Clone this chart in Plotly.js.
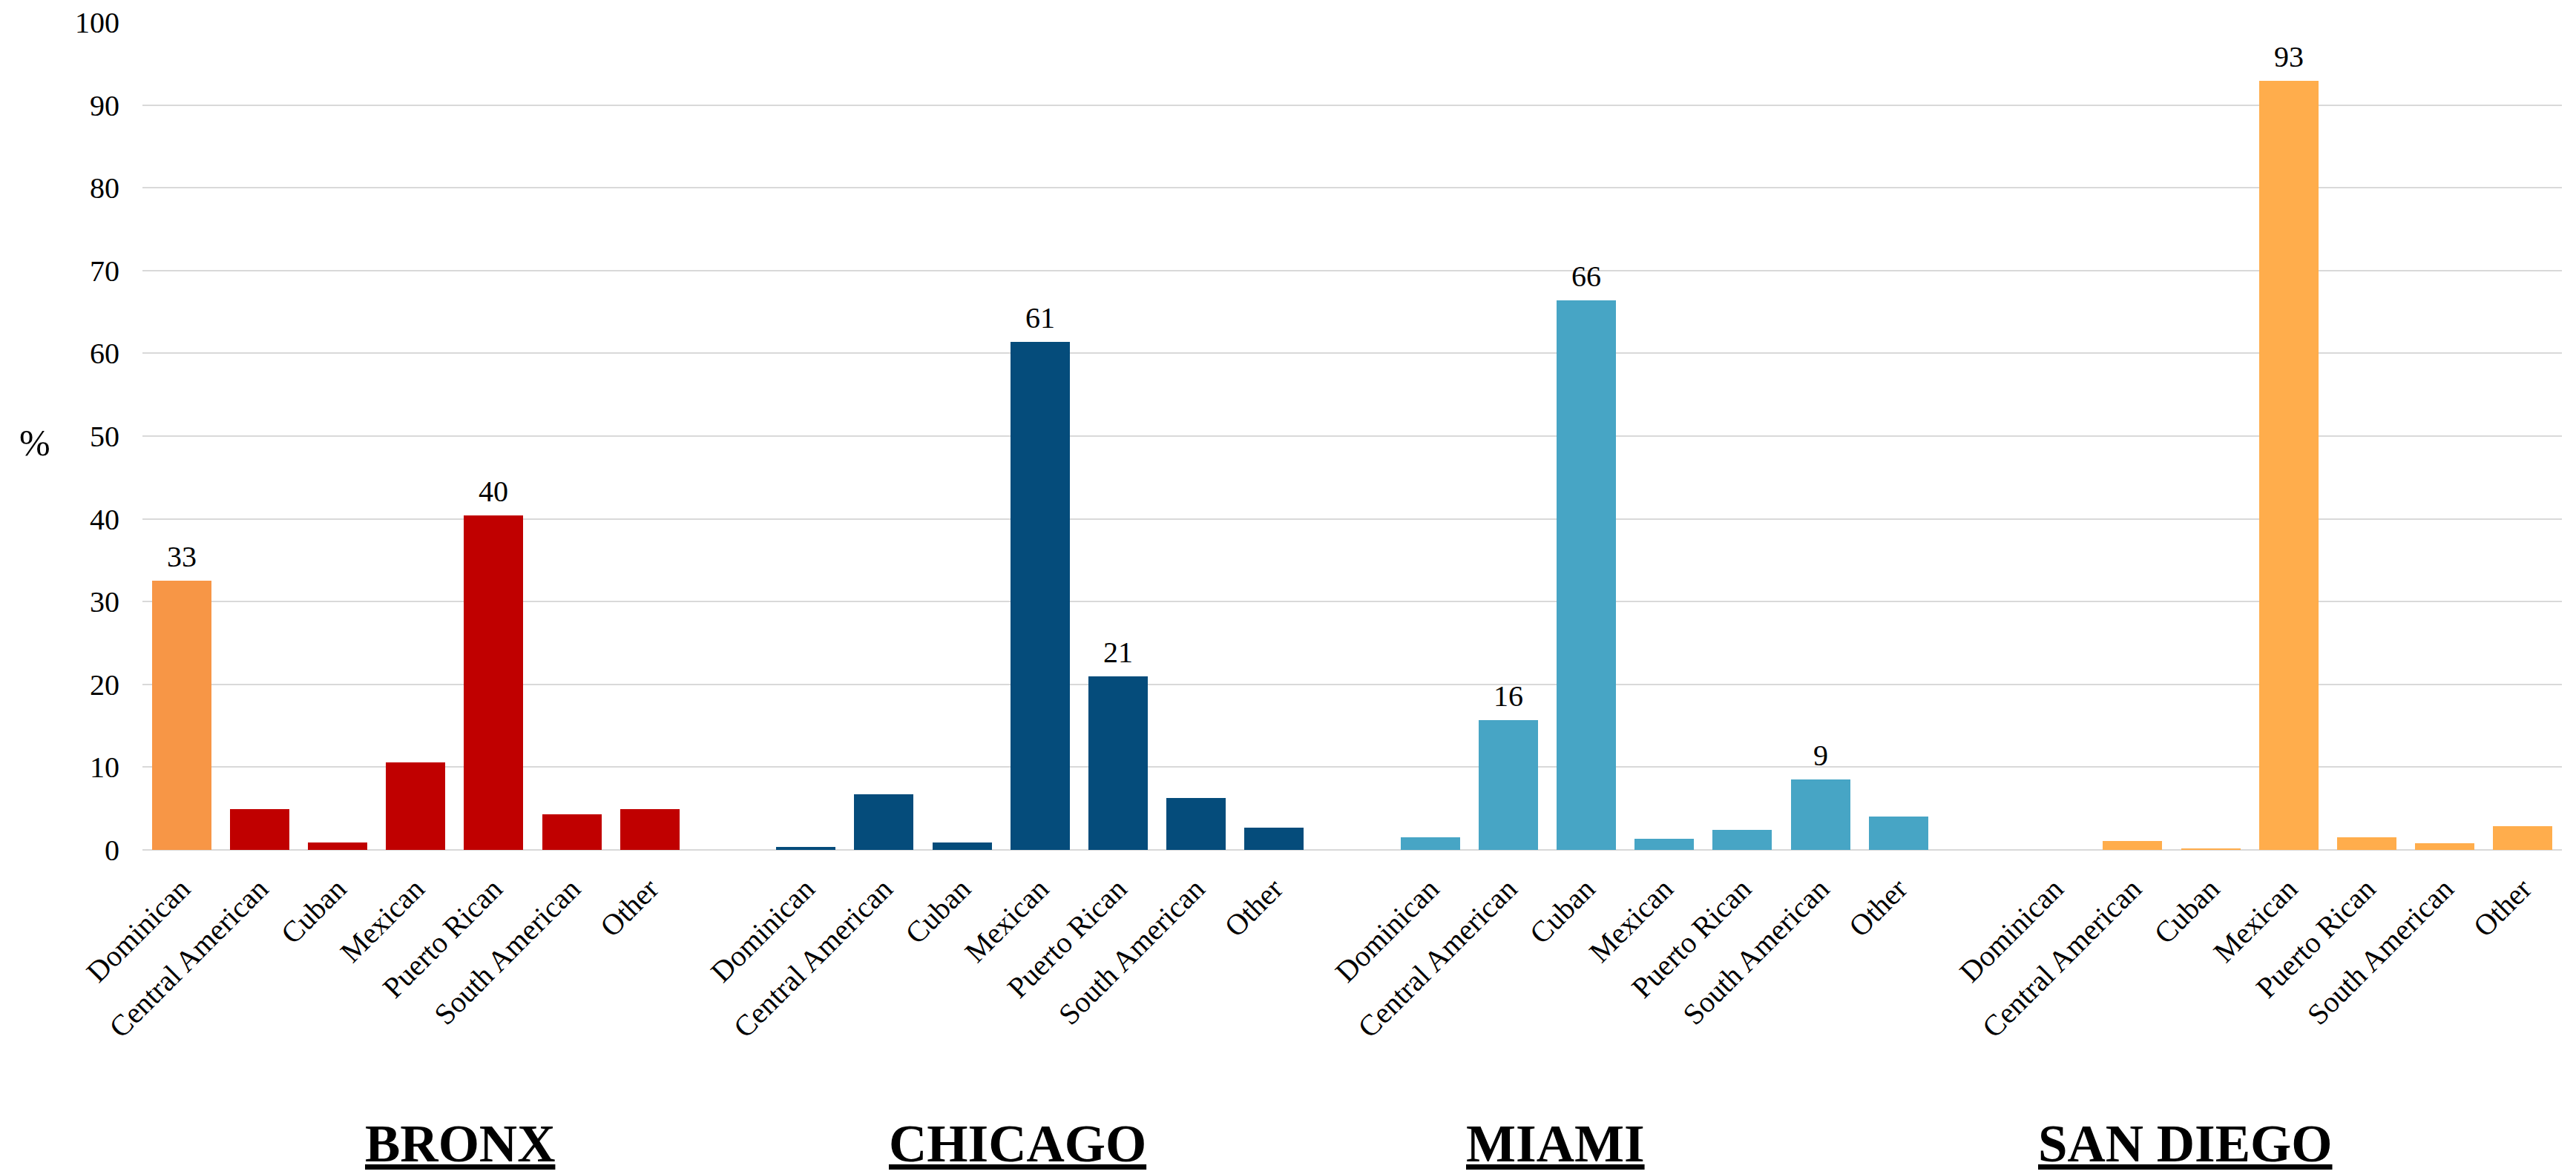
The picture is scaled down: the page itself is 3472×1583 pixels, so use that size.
<!DOCTYPE html>
<html>
<head>
<meta charset="utf-8">
<script src="https://cdn.plot.ly/plotly-3.0.1.min.js"></script>
<style>
  html, body { margin: 0; padding: 0; background: #ffffff; }
  #chart { width: 3472px; height: 1583px; }
</style>
</head>
<body>
<div id="chart"></div>
<script>
// Hispanic/Latino background by city (%)
const cities = ["BRONX", "CHICAGO", "MIAMI", "SAN DIEGO"];
const origins = ["Dominican", "Central American", "Cuban", "Mexican", "Puerto Rican", "South American", "Other"];

const bronx    = [32.5, 4.9, 0.9, 10.6, 40.4, 4.3, 4.9];
const chicago  = [0.4, 6.7, 0.9, 61.4, 21.0, 6.3, 2.7];
const miami    = [1.5, 15.7, 66.4, 1.3, 2.4, 8.5, 4.0];
const sanDiego = [0.0, 1.1, 0.2, 92.9, 1.5, 0.8, 2.9];

// which bars carry a value label (1 = labelled)
const bronxLabels    = [1, 0, 0, 0, 1, 0, 0];
const chicagoLabels  = [0, 0, 0, 1, 1, 0, 0];
const miamiLabels    = [0, 1, 1, 0, 0, 1, 0];
const sanDiegoLabels = [0, 0, 0, 1, 0, 0, 0];

const yTicks = [0, 10, 20, 30, 40, 50, 60, 70, 80, 90, 100];

const seriesValues = [bronx, chicago, miami, sanDiego];
const seriesLabels = [bronxLabels, chicagoLabels, miamiLabels, sanDiegoLabels];
const seriesColors = [
  ["#F79646", "#C00000", "#C00000", "#C00000", "#C00000", "#C00000", "#C00000"],
  "#054C7B",
  "#47A5C5",
  "#FFAD4C"
];

const SERIF = "Liberation Serif, Times New Roman, serif";
const slot = origins.length + 1;   // one empty slot between cities

const traces = [];
const annotations = [];
const tickvals = [];
const ticktext = [];

seriesValues.forEach((vals, g) => {
  const xs = origins.map((_, i) => g * slot + i);
  xs.forEach((x, i) => { tickvals.push(x); ticktext.push(origins[i]); });
  traces.push({
    type: "bar",
    x: xs,
    y: vals,
    name: cities[g],
    width: 0.76,
    marker: { color: seriesColors[g] },
    hoverinfo: "x+y",
    showlegend: false
  });
  vals.forEach((v, i) => {
    if (seriesLabels[g][i]) {
      annotations.push({
        x: xs[i], y: v, xref: "x", yref: "y",
        text: String(Math.round(v)),
        showarrow: false, yanchor: "bottom", yshift: 8,
        font: { family: SERIF, size: 40, color: "#000000" }
      });
    }
  });
});

// city names under each group
const cityTitleX = [620, 1371, 2096, 2945];
const plotL = 192, plotR = 3453, plotT = 30, plotB = 1146;
cities.forEach((c, g) => {
  annotations.push({
    x: (cityTitleX[g] - plotL) / (plotR - plotL),
    y: -(1542 - plotB) / (plotB - plotT),
    xref: "paper", yref: "paper",
    text: "<u><b>" + c + "</b></u>",
    showarrow: false, xanchor: "center", yanchor: "middle",
    font: { family: SERIF, size: 71, color: "#000000" }
  });
});

// axis unit
annotations.push({
  x: (47 - plotL) / (plotR - plotL),
  y: (plotB - 597) / (plotB - plotT),
  xref: "paper", yref: "paper",
  text: "%", showarrow: false, xanchor: "center", yanchor: "middle",
  font: { family: SERIF, size: 50, color: "#000000" }
});

const layout = {
  width: 3472,
  height: 1583,
  margin: { l: plotL, r: 3472 - plotR, t: plotT, b: 1583 - plotB },
  paper_bgcolor: "#ffffff",
  plot_bgcolor: "#ffffff",
  bargap: 0,
  xaxis: {
    range: [-0.5, seriesValues.length * slot - 1.5],
    tickmode: "array",
    tickvals: tickvals,
    ticktext: ticktext,
    tickangle: -45,
    ticks: "",
    ticklabelstandoff: 20,
    showgrid: false,
    zeroline: false,
    showline: false,
    fixedrange: true,
    tickfont: { family: SERIF, size: 40, color: "#000000" }
  },
  yaxis: {
    range: [0, 100],
    tickmode: "array",
    tickvals: yTicks,
    ticks: "",
    ticklabelstandoff: 30,
    showgrid: true,
    gridcolor: "#D9D9D9",
    gridwidth: 2,
    zeroline: true,
    zerolinecolor: "#D9D9D9",
    zerolinewidth: 2,
    showline: false,
    fixedrange: true,
    tickfont: { family: SERIF, size: 40, color: "#000000" }
  },
  annotations: annotations
};

Plotly.newPlot("chart", traces, layout, { staticPlot: true, displayModeBar: false });
</script>
</body>
</html>
